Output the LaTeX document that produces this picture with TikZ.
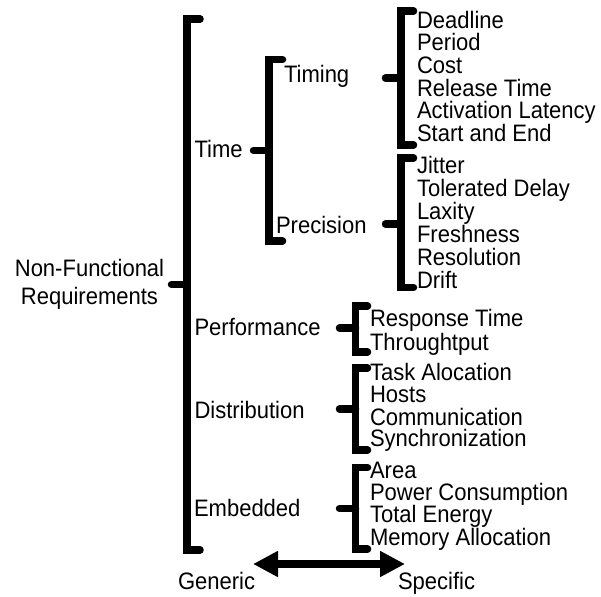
\documentclass[tikz,border=0pt]{standalone}
\usepackage{fontspec}
\setmainfont{Liberation Sans}[FakeStretch=0.925]
\usetikzlibrary{arrows.meta}

% one bracket: spine x, top y, bottom y, tick end x, stub y, stub start x
\newcommand\nfbrace[6]{%
  \draw[brace] (#4,#2) -- (#1,#2) -- (#1,#3) -- (#4,#3);
  \draw[brace] (#6,#5) -- (#1,#5);
}

\begin{document}
\begin{tikzpicture}[x=1bp, y=-1bp,
  brace/.style={line width=7.5bp, line cap=round, line join=miter},
  lbl/.style={inner sep=0pt, outer sep=0pt, anchor=base west,
              font=\fontsize{23.8bp}{28bp}\selectfont},
  scale arrow/.style={line width=7.5bp,
    {Triangle[length=25bp,width=24.5bp]}-{Triangle[length=25bp,width=24.5bp]}}]
\useasboundingbox (0,0) rectangle (601,597);

% root (base anchor sits on the last line)
\node[lbl, anchor=base, align=center] (nfr) at (89.5,304) {Non-Functional\\Requirements};

% first level
\node[lbl] (time) at (194.5,157.3) {Time};
\node[lbl] (perf) at (194.5,335.7) {Performance};
\node[lbl] (dist) at (194.5,418.3) {Distribution};
\node[lbl] (emb)  at (194,516.7) {Embedded};

% second level under Time
\node[lbl] (timing) at (284,82.3) {Timing};
\node[lbl] (prec)   at (276,233.3) {Precision};

% timing attributes
\node[lbl] (t1) at (417,28.3)  {Deadline};
\node[lbl] (t2) at (417,51.0)  {Period};
\node[lbl] (t3) at (417,73.7)  {Cost};
\node[lbl] (t4) at (417,96.3)  {Release Time};
\node[lbl] (t5) at (417,119.0) {Activation Latency};
\node[lbl] (t6) at (417,141.7) {Start and End};

% precision attributes
\node[lbl] (p1) at (417,174.0) {Jitter};
\node[lbl] (p2) at (417,196.8) {Tolerated Delay};
\node[lbl] (p3) at (417,219.6) {Laxity};
\node[lbl] (p4) at (417,242.4) {Freshness};
\node[lbl] (p5) at (417,265.2) {Resolution};
\node[lbl] (p6) at (417,288.0) {Drift};

% performance attributes
\node[lbl] (r1) at (370,326.7) {Response Time};
\node[lbl] (r2) at (370,350.0) {Throughtput};

% distribution attributes
\node[lbl] (d1) at (370,380.7) {Task Alocation};
\node[lbl] (d2) at (370,402.7) {Hosts};
\node[lbl] (d3) at (370,425.0) {Communication};
\node[lbl] (d4) at (370,446.7) {Synchronization};

% embedded attributes
\node[lbl] (e1) at (370,478.0) {Area};
\node[lbl] (e2) at (370,500.7) {Power Consumption};
\node[lbl] (e3) at (370,522.7) {Total Energy};
\node[lbl] (e4) at (370,545.0) {Memory Allocation};

% brackets
\nfbrace{187}{19}{550}{200}{284.5}{171.5}
\nfbrace{269}{59.5}{241}{282.5}{150.5}{253.5}
\nfbrace{401}{11}{145}{413.5}{78}{385.5}
\nfbrace{401}{158}{287.5}{413.5}{224}{385.5}
\nfbrace{355.5}{306}{352}{367.5}{328}{339.5}
\nfbrace{355.5}{368}{450}{367.5}{409}{339.5}
\nfbrace{355.5}{467.5}{549}{367.5}{508.5}{339.5}

% generic / specific scale
\node[lbl] (gen)  at (178,589.3) {Generic};
\node[lbl] (spec) at (398,589.3) {Specific};
\coordinate (al) at (253,564);
\coordinate (ar) at (405,564);
\draw[scale arrow] (al) -- (ar);
\end{tikzpicture}
\end{document}
